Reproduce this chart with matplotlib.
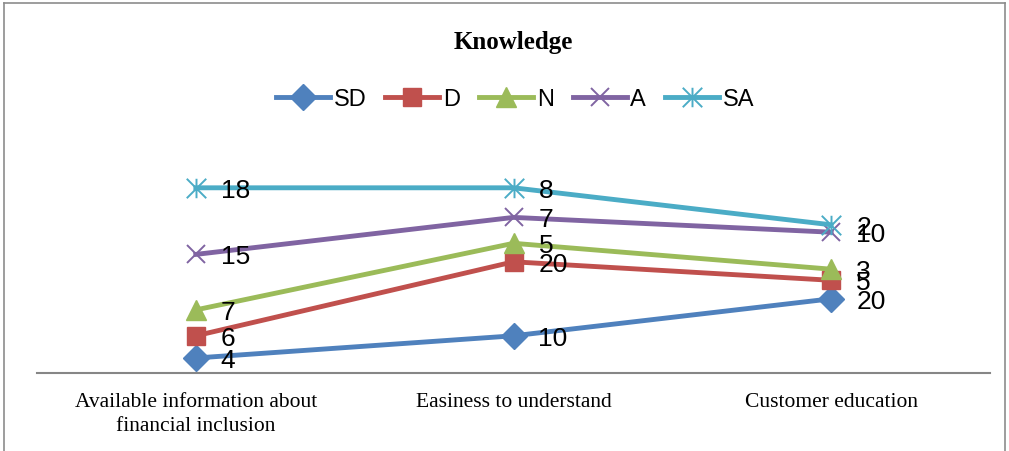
import matplotlib.pyplot as plt
from matplotlib.lines import Line2D
from matplotlib.path import Path

# Survey answers per knowledge item (counts, plotted as stacked lines)
categories = ["Available information about\nfinancial inclusion",
              "Easiness to understand",
              "Customer education"]
series_names = ["SD", "D", "N", "A", "SA"]
sd = [4, 10, 20]
d = [6, 20, 5]
n = [7, 5, 3]
a = [15, 7, 10]
sa = [18, 8, 2]

colors = ["#4F81BD", "#C0504D", "#9BBB59", "#8064A2", "#4BACC6"]

# asterisk marker: vertical bar plus an X
star = Path([(0, -1), (0, 1), (-1, -1), (1, 1), (-1, 1), (1, -1)],
            [Path.MOVETO, Path.LINETO, Path.MOVETO, Path.LINETO, Path.MOVETO, Path.LINETO])
markers = [("D", 13.5, True), ("s", 13.5, True), ("^", 14, True), ("x", 13, False), (star, 14, False)]

fig = plt.figure(figsize=(10.09, 4.52), dpi=100)
ax = fig.add_axes([37 / 1009, (452 - 373.8) / 452, (990 - 37) / 1009, (373.8 - 151.8) / 452])

x = range(len(categories))
cum = [0, 0, 0]
for name, vals, col, (mk, ms, filled) in zip(series_names, [sd, d, n, a, sa], colors, markers):
    cum = [c + v for c, v in zip(cum, vals)]
    if filled:
        ax.plot(x, cum, color=col, lw=3.5, marker=mk, ms=ms, mfc=col, mec=col, label=name)
    else:
        ax.plot(x, cum, color=col, lw=3.5, marker=mk, ms=ms, mfc="none", mec=col, mew=1.4, label=name)
    for xi, yi, v in zip(x, cum, vals):
        ax.annotate(str(v), (xi, yi), xytext=(25, -2), textcoords="offset pixels",
                    ha="left", va="center", fontsize=19, family="Liberation Sans", color="black")

ax.set_xlim(-0.5, 2.5)
ax.set_ylim(0, 60)
ax.set_yticks([])
ax.set_xticks(list(x))
ax.set_xticklabels(categories, fontsize=15.5, family="Liberation Serif", linespacing=1.35)
ax.tick_params(axis="x", length=0, pad=14)
for s in ["top", "right", "left"]:
    ax.spines[s].set_visible(False)
ax.spines["bottom"].set_color("#868686")
ax.spines["bottom"].set_linewidth(1.5)

fig.text(513 / 1009, 1 - 43 / 452, "Knowledge", ha="center", va="center",
         fontsize=18, fontweight="bold", family="Liberation Serif")

fig.legend(loc="center", bbox_to_anchor=(515 / 1009, 1 - 100 / 452), ncol=5, frameon=False,
           prop={"family": "Liberation Sans", "size": 17}, handlelength=2.3,
           handletextpad=0.15, columnspacing=0.8)

# outer chart border
for seg in [([4, 4], [0, 448]), ([4, 1005], [448, 448]), ([1005, 1005], [0, 448])]:
    fig.add_artist(Line2D([p / 1009 for p in seg[0]], [p / 452 for p in seg[1]],
                          color="#8C8C8C", lw=1.2))

fig.savefig("out.png", dpi=100)
